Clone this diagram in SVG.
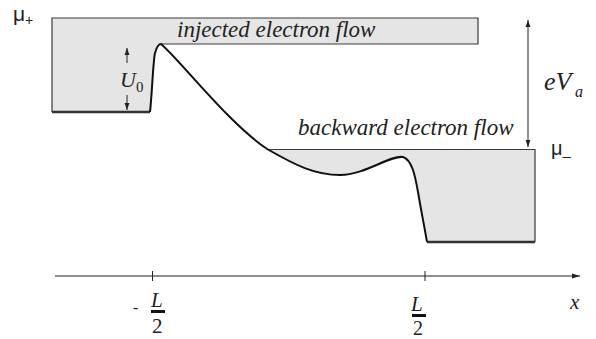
<svg xmlns="http://www.w3.org/2000/svg" width="596" height="339" viewBox="0 0 596 339">
<style>
.fill{fill:#e5e5e6;stroke:none}
.edge{fill:none;stroke:#3a3a3a;stroke-width:1.2}
.curve{fill:none;stroke:#111;stroke-width:2}
.floor{fill:none;stroke:#333;stroke-width:2.6}
.ln{fill:none;stroke:#222;stroke-width:1}
.it{font-style:italic;fill:#222}
.rm{fill:#222}
.sans{fill:#222}
</style>
<defs>
<marker id="ah" viewBox="0 0 10 10" refX="10" refY="5" markerWidth="7" markerHeight="7" markerUnits="userSpaceOnUse" orient="auto-start-reverse">
<path d="M0,1.5 L10,5 L0,8.5 Z" fill="#222"/>
</marker>
<marker id="axh" viewBox="0 0 10 10" refX="10" refY="5" markerWidth="8" markerHeight="8" markerUnits="userSpaceOnUse" orient="auto">
<path d="M0,2 L10,5 L0,8 Z" fill="#222"/>
</marker>
</defs>

<g id="left-region">
<path class="fill" d="M52,18 L478,18 L478,44 L161,44 C159,44 157,46 155,53 C153,62 152,95 150,112 L52,112 Z"/>
<path class="edge" d="M52,112 L52,18 L478,18 L478,44 L161,44"/>
<path class="floor" d="M52,112 L150,112"/>
</g>

<g id="right-region">
<path class="fill" d="M268,149.5 C295,165 315,175 340,175 C365,175 390,155 403,157 C412,160 415,175 418,192 C421,210 425,230 427,242 L535,242 L535,149.5 Z"/>
<path class="edge" d="M268,149.5 L535,149.5 L535,242"/>
<path class="floor" d="M427,242 L535,242"/>
</g>

<g id="potential-curve">
<path class="curve" d="M150,112 C152,95 153,62 155,53 C157,46 159,44 161,44 C180,60 230,125 268,149.5 C295,165 315,175 340,175 C365,175 390,155 403,157 C412,160 415,175 418,192 C421,210 425,230 427,242"/>
</g>

<g id="connectors">
<line class="ln" x1="127" y1="63" x2="127" y2="48" marker-end="url(#ah)"/>
<line class="ln" x1="127" y1="95" x2="127" y2="110" marker-end="url(#ah)"/>
<line class="ln" x1="528" y1="20" x2="528" y2="147" marker-start="url(#ah)" marker-end="url(#ah)"/>
<line class="ln" x1="55" y1="276" x2="580" y2="276" marker-end="url(#axh)"/>
<line class="ln" x1="152.5" y1="271" x2="152.5" y2="281"/>
<line class="ln" x1="425" y1="271" x2="425" y2="281"/>
</g>

<g id="labels" font-family="'Liberation Serif', 'Times New Roman', serif">
<text class="sans" font-family="'Liberation Sans', Arial, sans-serif" x="13" y="21" font-size="21">μ<tspan font-size="14" dy="4">+</tspan></text>
<text class="sans" font-family="'Liberation Sans', Arial, sans-serif" x="551" y="155" font-size="20">μ<tspan font-size="15" dy="6">–</tspan></text>
<text class="it" x="177" y="37" font-size="23">injected electron flow</text>
<text class="it" x="298" y="135" font-size="23">backward electron flow</text>
<text class="it" x="120" y="87" font-size="22">U</text>
<text class="rm" x="136" y="92" font-size="15">0</text>
<text class="it" x="544" y="90" font-size="26">eV</text>
<text class="it" x="575" y="97" font-size="16">a</text>
<text class="it" x="570" y="309" font-size="21">x</text>
<text class="rm" x="133" y="313" font-size="16">-</text>
<text class="it" x="151" y="307" font-size="21">L</text>
<rect x="151" y="310" width="14" height="3" fill="#111"/>
<text class="rm" x="152" y="333" font-size="21">2</text>
<text class="it" x="411" y="311" font-size="21">L</text>
<rect x="412" y="314" width="14" height="3" fill="#111"/>
<text class="rm" x="413" y="335" font-size="20">2</text>
</g>
</svg>
